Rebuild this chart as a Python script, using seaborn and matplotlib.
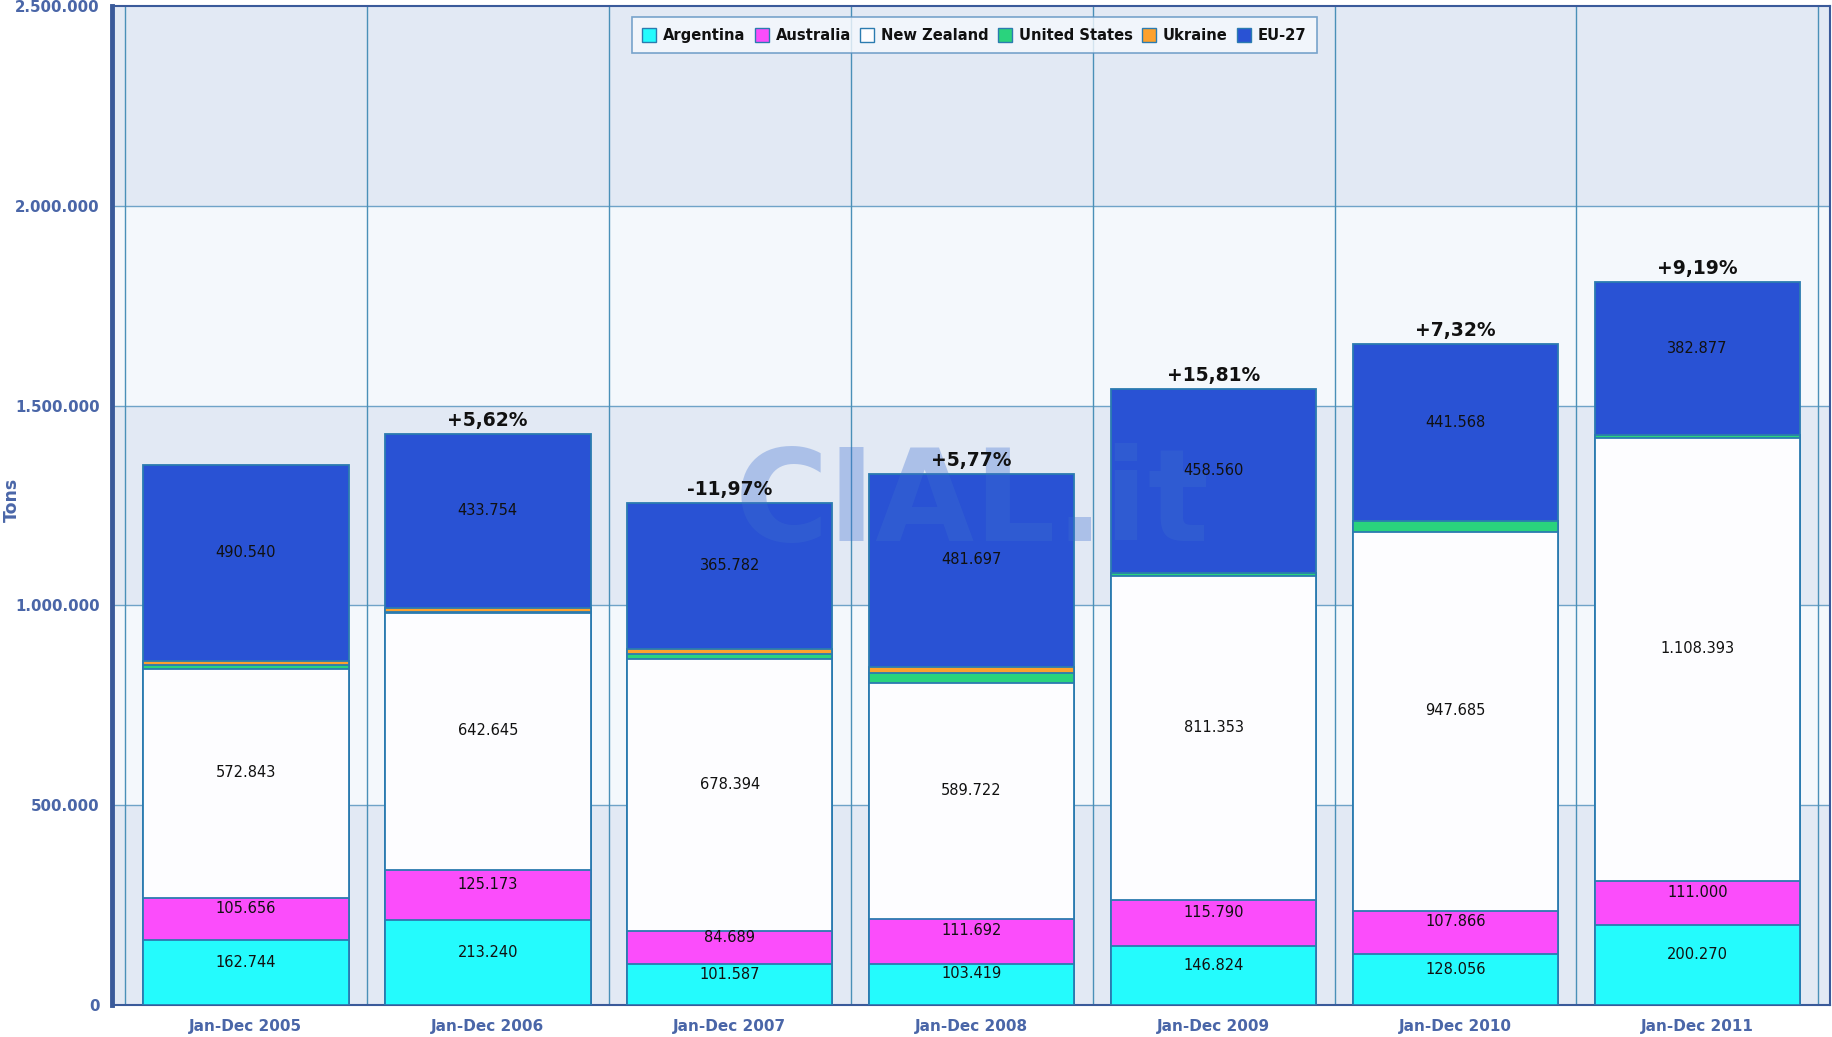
import numpy as np
import pandas as pd
import seaborn as sns
import matplotlib.pyplot as plt
from matplotlib.patches import Patch
from matplotlib.ticker import FuncFormatter, FixedLocator

# Données (tonnes)
periods = ["Jan-Dec 2005", "Jan-Dec 2006", "Jan-Dec 2007", "Jan-Dec 2008",
           "Jan-Dec 2009", "Jan-Dec 2010", "Jan-Dec 2011"]
argentina = [162744, 213240, 101587, 103419, 146824, 128056, 200270]
australia = [105656, 125173, 84689, 111692, 115790, 107866, 111000]
new_zealand = [572843, 642645, 678394, 589722, 811353, 947685, 1108393]
united_states = [9000, 3000, 14000, 26000, 8000, 28000, 7000]
ukraine = [11000, 10000, 12000, 16000, 0, 0, 0]
eu27 = [490540, 433754, 365782, 481697, 458560, 441568, 382877]
variations = ["", "+5,62%", "-11,97%", "+5,77%", "+15,81%", "+7,32%", "+9,19%"]

series_names = ["Argentina", "Australia", "New Zealand", "United States", "Ukraine", "EU-27"]
series_values = [argentina, australia, new_zealand, united_states, ukraine, eu27]
series_colors = ["#24fbfd", "#fb4dfb", "#fdfdff", "#2ad37d", "#fda12d", "#2952d4"]
labelled = {"Argentina", "Australia", "New Zealand", "EU-27"}

df = pd.DataFrame({"period": periods})
for name, vals in zip(series_names, series_values):
    df[name] = vals
cum = df[series_names].cumsum(axis=1)

def fmt_it(v):
    return f"{int(round(v)):,}".replace(",", ".")

sns.set_style("white")
plt.rcParams["font.family"] = ["DejaVu Sans"]

fig = plt.figure(figsize=(18.33, 10.37), dpi=100)
ax = fig.add_axes([112 / 1833, 1 - 1005 / 1037, (1830 - 112) / 1833, (1005 - 6) / 1037])

# bandes de fond
band_dark, band_light = "#e2e9f4", "#f4f8fc"
for i, lo in enumerate(range(0, 2500000, 500000)):
    ax.axhspan(lo, lo + 500000, color=band_dark if i % 2 == 0 else band_light, zorder=0, lw=0)

edge = "#2b7bb0"
# empilement : on trace les cumuls du haut vers le bas
for name, color in reversed(list(zip(series_names, series_colors))):
    sns.barplot(x=df["period"], y=cum[name], color=color, saturation=1, width=0.85,
                edgecolor=edge, linewidth=1.3, ax=ax, zorder=3)

# filigrane
ax.text(3.0, 1250000, "CIAL.it", ha="center", va="center", fontsize=92,
        fontweight="bold", color="#3d6fd0", alpha=0.33, zorder=4)

# étiquettes de valeurs
for i in range(len(periods)):
    base = 0
    for name in series_names:
        v = df.loc[i, name]
        if name in labelled:
            ax.text(i, base + v / 2 + 26000, fmt_it(v), ha="center", va="center",
                    fontsize=10.5, color="#111111", zorder=5)
        base += v
    if variations[i]:
        ax.annotate(variations[i], (i, base), xytext=(0, 3), textcoords="offset points",
                    ha="center", va="bottom", fontsize=13.5, fontweight="bold",
                    color="#111111", zorder=5)

ax.set_xlim(-0.553, 6.548)
ax.set_ylim(0, 2500000)

tick_col = "#4a66a8"
ax.yaxis.set_major_locator(FixedLocator(np.arange(0, 2500001, 500000)))
ax.yaxis.set_major_formatter(FuncFormatter(lambda v, p: fmt_it(v)))
ax.set_xticks(range(len(periods)))
ax.set_xticklabels(periods)
ax.set_xticks(np.arange(-0.5, len(periods), 1), minor=True)
ax.tick_params(axis="x", which="major", length=0, pad=10, labelsize=11, labelcolor=tick_col)
ax.tick_params(axis="x", which="minor", length=6, width=1.5, color="#3a5a9a", direction="out")
ax.tick_params(axis="y", length=7, width=1.5, color="#3a5a9a", labelsize=10.8,
               labelcolor=tick_col, pad=2)
for lab in ax.get_xticklabels() + ax.get_yticklabels():
    lab.set_fontweight("bold")
ax.set_xlabel("")
ax.set_ylabel("")
fig.text(0.0065, 0.518, "Tons", rotation=90, ha="center", va="center",
         fontsize=12.5, fontweight="bold", color=tick_col)

# grille
ax.set_axisbelow(True)
for y in range(500000, 2500000, 500000):
    ax.axhline(y, color="#6fa3c8", lw=1, zorder=1)
for x in np.arange(-0.5, len(periods), 1):
    ax.axvline(x, color="#4a90b8", lw=1, zorder=1)

for side, sp in ax.spines.items():
    sp.set_visible(True)
    sp.set_color("#3a5a9a")
    sp.set_linewidth(1.5)
ax.spines["left"].set_linewidth(3.5)

handles = [Patch(facecolor=c, edgecolor=edge, label=n) for n, c in zip(series_names, series_colors)]
leg = ax.legend(handles=handles, loc="upper center", bbox_to_anchor=(0.502, 0.996), ncol=6,
                frameon=True, fancybox=False, fontsize=10.6, handlelength=0.95, handleheight=1.1,
                handletextpad=0.45, columnspacing=0.65, borderpad=0.7)
leg.get_frame().set_edgecolor("#5a8fc0")
leg.get_frame().set_facecolor("#f6f9fd")
leg.get_frame().set_linewidth(1.2)
for t in leg.get_texts():
    t.set_fontweight("bold")
    t.set_color("#111111")
leg.set_zorder(7)

fig.savefig("out.png", dpi=100)
plt.close(fig)
